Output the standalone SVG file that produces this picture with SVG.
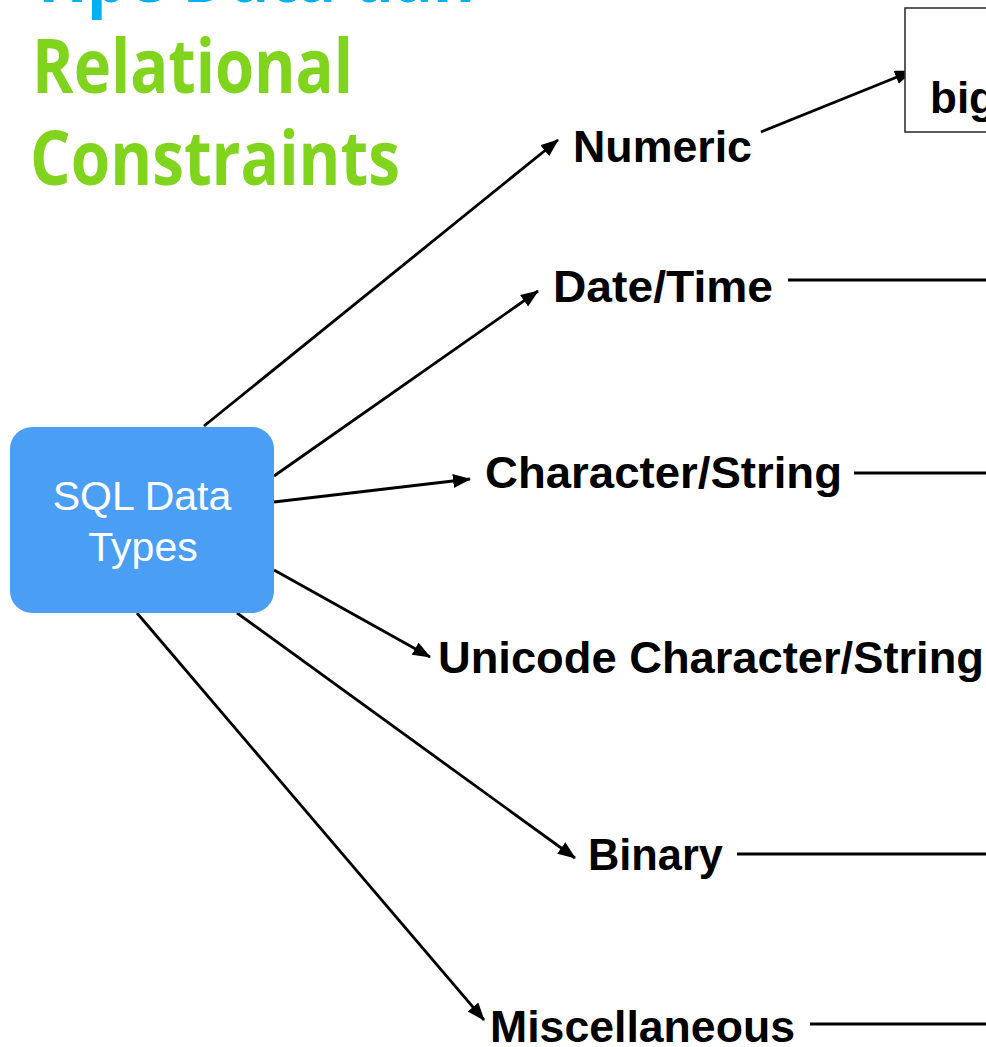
<svg xmlns="http://www.w3.org/2000/svg" width="986" height="1047" viewBox="0 0 986 1047">
  <defs>
    <style>
      .title { font-family: "Open Sans", "Noto Sans", sans-serif; font-weight: 700; }
      .blue { fill: #00B0F0; }
      .green { fill: #80D41E; }
      .lbl { font-family: "Liberation Sans", Arial, sans-serif; font-weight: bold; font-size: 44px; fill: #000; }
      .root { font-family: "Liberation Sans", Arial, sans-serif; font-size: 41px; fill: #fff; text-anchor: middle; }
      .edge { stroke: #000; stroke-width: 2.8; fill: none; }
      .arrow { marker-end: url(#ah); }
    </style>
    <marker id="ah" markerUnits="userSpaceOnUse" markerWidth="20" markerHeight="16" refX="17" refY="7" orient="auto">
      <path d="M0,0 L18,7 L0,14 z" fill="#000"/>
    </marker>
  </defs>
  <rect width="986" height="1047" fill="#fff"/>

  <g id="title">
    <text class="title blue" x="30" y="2" font-size="76" textLength="445" lengthAdjust="spacingAndGlyphs">Tipe Data dan</text>
    <text class="title green" x="32" y="93" font-size="76" textLength="321" lengthAdjust="spacingAndGlyphs">Relational</text>
    <text class="title green" x="30" y="185" font-size="76" textLength="370" lengthAdjust="spacingAndGlyphs">Constraints</text>
  </g>

  <g id="connectors">
    <line class="edge arrow" x1="204" y1="426" x2="558" y2="140"/>
    <line class="edge arrow" x1="274" y1="476" x2="538" y2="291"/>
    <line class="edge arrow" x1="274" y1="502" x2="470" y2="479"/>
    <line class="edge arrow" x1="274" y1="570" x2="430" y2="657"/>
    <line class="edge arrow" x1="237" y1="613" x2="575" y2="858"/>
    <line class="edge arrow" x1="137" y1="613" x2="484" y2="1020"/>
    <line class="edge arrow" x1="761" y1="132" x2="912" y2="71"/>
    <line class="edge" x1="788" y1="280" x2="986" y2="280"/>
    <line class="edge" x1="854" y1="473" x2="986" y2="473"/>
    <line class="edge" x1="737" y1="854" x2="986" y2="854"/>
    <line class="edge" x1="810" y1="1024" x2="986" y2="1024"/>
  </g>

  <g id="sql-data-types">
    <rect x="10" y="427" width="264" height="186" rx="22" ry="22" fill="#4A9FF5"/>
    <text class="root" x="142" y="510">SQL Data</text>
    <text class="root" x="143" y="561">Types</text>
  </g>

  <g id="numeric"><text class="lbl" x="573" y="162" textLength="179" lengthAdjust="spacingAndGlyphs">Numeric</text></g>
  <g id="datetime"><text class="lbl" x="553" y="302" textLength="220" lengthAdjust="spacingAndGlyphs">Date/Time</text></g>
  <g id="character-string"><text class="lbl" x="485" y="488" textLength="357" lengthAdjust="spacingAndGlyphs">Character/String</text></g>
  <g id="unicode-character-string"><text class="lbl" x="438" y="673" textLength="546" lengthAdjust="spacingAndGlyphs">Unicode Character/String</text></g>
  <g id="binary"><text class="lbl" x="588" y="870" textLength="135" lengthAdjust="spacingAndGlyphs">Binary</text></g>
  <g id="miscellaneous"><text class="lbl" x="490" y="1042" textLength="305" lengthAdjust="spacingAndGlyphs">Miscellaneous</text></g>

  <g id="numeric-types">
    <rect x="905" y="8" width="110" height="124" fill="#fff" stroke="#333" stroke-width="1.6"/>
    <text class="lbl" x="930" y="113">big</text>
  </g>
</svg>
